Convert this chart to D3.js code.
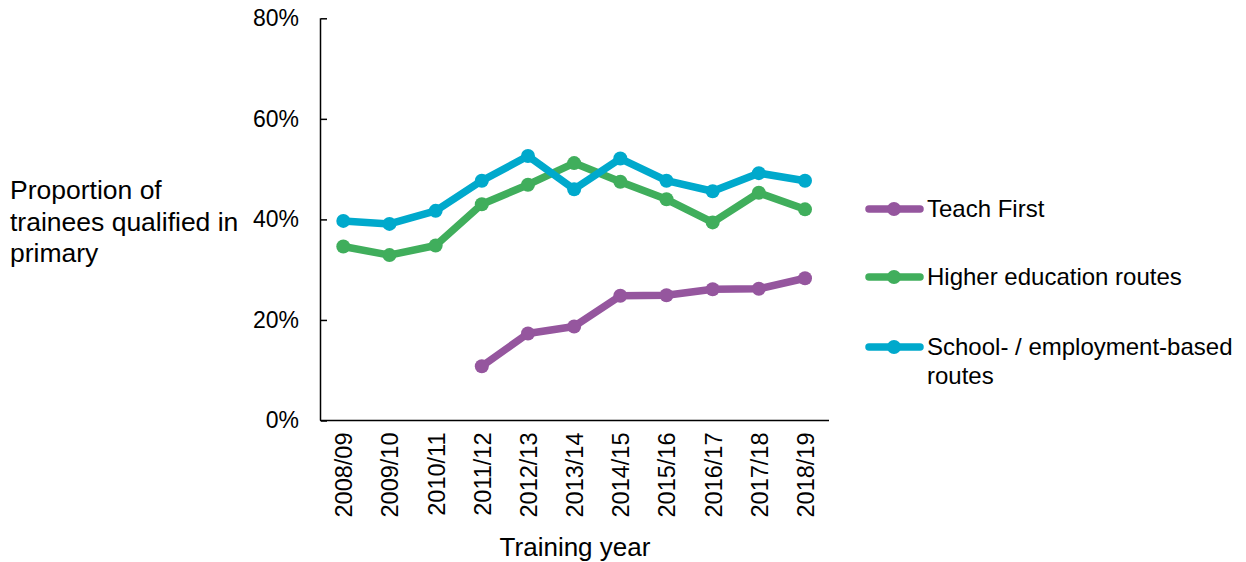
<!DOCTYPE html>
<html><head><meta charset="utf-8">
<script src="https://cdn.jsdelivr.net/npm/d3@7"></script>
<style>body{margin:0;background:#fff}text{font-family:"Liberation Sans",Arial,sans-serif;fill:#000}</style>
</head><body><svg id="c" width="1246" height="562"></svg>
<script>
const years = ["2008/09","2009/10","2010/11","2011/12","2012/13","2013/14","2014/15","2015/16","2016/17","2017/18","2018/19"];
const teachFirst = [null,null,null,10.8,17.3,18.7,24.8,24.9,26.1,26.2,28.3];
const higherEd = [34.6,32.9,34.8,43.0,46.9,51.2,47.5,44.0,39.4,45.3,42.0];
const schoolBased = [39.7,39.1,41.7,47.7,52.6,46.0,52.1,47.7,45.6,49.2,47.7];
const yTicks = [0,20,40,60,80];
const seriesNames = ["Teach First","Higher education routes","School- / employment-based routes"];
const colors = ["#95569E","#40AE5C","#00A9CC"];

const svg = d3.select("#c");
const x = d3.scalePoint().domain(years).range([343.3,805]);
const y = d3.scaleLinear().domain([0,80]).range([420.5,18.3]);
const x0 = 321, x1 = 829;

// y axis
const ya = svg.append("g").attr("transform",`translate(${x0},0)`)
  .call(d3.axisLeft(y).tickValues(yTicks).tickFormat(d=>d+"%").tickSize(-6).tickPadding(22));
ya.select(".domain").attr("stroke","#000").attr("stroke-width",1.5).attr("d",`M-0.5,${y(80)}V${y(0)}`);
ya.selectAll(".tick line").attr("stroke","#000").attr("stroke-width",1.5);
ya.selectAll(".tick text").attr("font-size",23).attr("font-family","Liberation Sans, Arial, sans-serif");

// x axis
const xa = svg.append("g").attr("transform",`translate(0,${y(0)})`)
  .call(d3.axisBottom(x).tickSize(0).tickPadding(0));
xa.select(".domain").attr("stroke","#000").attr("stroke-width",1.5).attr("d",`M${x0-1},0H${x1}`);
xa.selectAll(".tick text").attr("font-size",23.5).attr("font-family","Liberation Sans, Arial, sans-serif")
  .attr("text-anchor","end").attr("transform","rotate(-90)").attr("x",-12).attr("y",0).attr("dy","0.36em");

// titles
svg.append("text").attr("x",575).attr("y",556).attr("text-anchor","middle").attr("font-size",26).text("Training year");
const yt = svg.append("text").attr("font-size",26.5);
["Proportion of","trainees qualified in","primary"].forEach((t,i)=>yt.append("tspan").attr("x",10).attr("y",199+i*31.5).text(t));

// lines
const data = [teachFirst,higherEd,schoolBased];
const line = d3.line().defined(d=>d!=null).x((d,i)=>x(years[i])).y(d=>y(d));
data.forEach((s,k)=>{
  svg.append("path").attr("d",line(s)).attr("fill","none").attr("stroke",colors[k]).attr("stroke-width",7.5).attr("stroke-linejoin","round");
  svg.append("g").selectAll("circle").data(s.map((v,i)=>({v,i})).filter(d=>d.v!=null)).join("circle")
    .attr("cx",d=>x(years[d.i])).attr("cy",d=>y(d.v)).attr("r",7).attr("fill",colors[k]);
});

// legend
const ly = [209,277,347];
seriesNames.forEach((n,k)=>{
  const g = svg.append("g").attr("transform",`translate(0,${ly[k]})`);
  g.append("line").attr("x1",869).attr("x2",920).attr("y1",0).attr("y2",0).attr("stroke",colors[k]).attr("stroke-width",7.5).attr("stroke-linecap","round");
  g.append("circle").attr("cx",894).attr("cy",0).attr("r",7).attr("fill",colors[k]);
  const t = g.append("text").attr("font-size",24).attr("x",927).attr("y",8);
  if(k===2){
    t.append("tspan").attr("x",927).attr("y",8).text("School- / employment-based");
    t.append("tspan").attr("x",927).attr("y",37).text("routes");
  } else t.text(n);
});
</script></body></html>
